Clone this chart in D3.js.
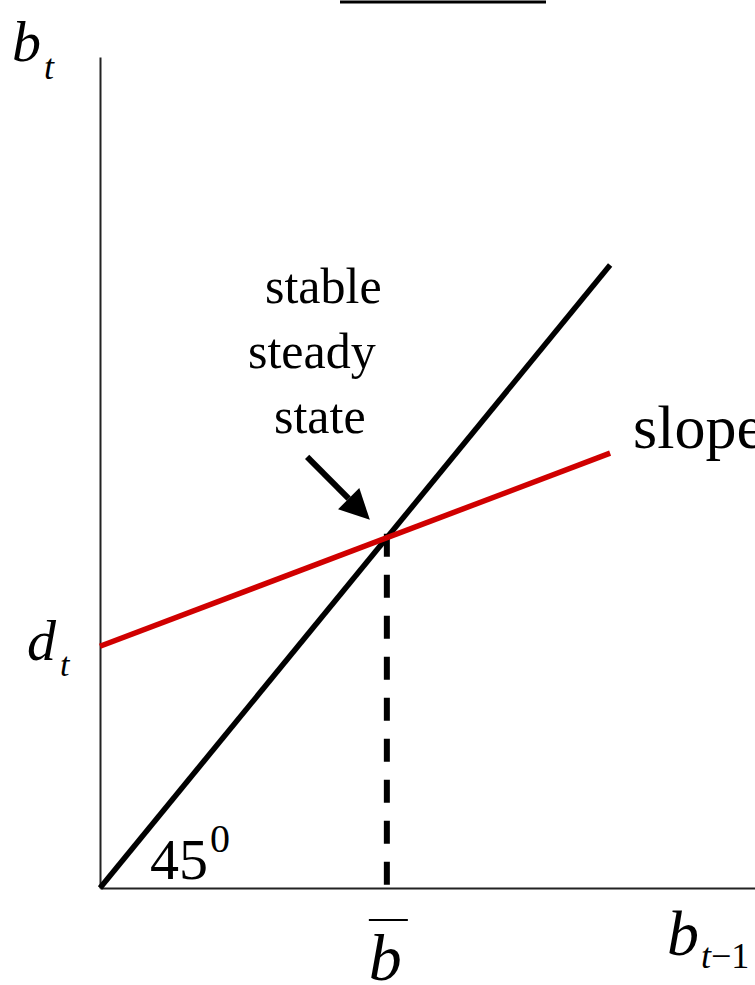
<!DOCTYPE html>
<html>
<head>
<meta charset="utf-8">
<script src="https://cdn.jsdelivr.net/npm/d3@7/dist/d3.min.js"></script>
<style>
  html, body { margin: 0; padding: 0; background: #fff; }
  svg { display: block; }
</style>
</head>
<body>
<svg id="chart" width="755" height="985"></svg>
<script>
// Debt dynamics: b_t = d_t + slope * b_{t-1}, against the 45-degree line
const xDomain = [0, 12.84];        // b_{t-1}
const yDomain = [0, 13.34];        // b_t
const lineSpan = [0, 10];          // drawn extent of both lines
const intercept = 3.88;            // d_t
const slope = 0.31;                // slope of the debt line (< 1, stable)
const steadyState = intercept / (1 - slope);   // b-bar
const arrowFrom = [4.06, 6.92];
const arrowTo = [5.29, 5.91];
const labelLines = ["stable", "steady", "state"];

const SERIF = "'Liberation Serif', 'Times New Roman', Times, 'DejaVu Serif', serif";

const svg = d3.select("#chart");
const x = d3.scaleLinear().domain(xDomain).range([100, 755]);
const y = d3.scaleLinear().domain(yDomain).range([888, 57]);

// Axes (plain lines, no ticks)
svg.append("g").attr("transform", `translate(0,${y(0)})`)
  .call(d3.axisBottom(x).tickValues([]).tickSizeOuter(0))
  .select(".domain").attr("stroke", "#222").attr("stroke-width", 2);
svg.append("g").attr("transform", `translate(${x(0)},0)`)
  .call(d3.axisLeft(y).tickValues([]).tickSizeOuter(0))
  .select(".domain").attr("stroke", "#222").attr("stroke-width", 2);

// Overline fragment at the top edge
svg.append("line").attr("x1", 340).attr("x2", 546).attr("y1", 2).attr("y2", 2)
  .attr("stroke", "#000").attr("stroke-width", 3);

const line = d3.line().x(d => x(d[0])).y(d => y(d[1]));

// Dashed drop line at the steady state
svg.append("line")
  .attr("x1", x(steadyState)).attr("x2", x(steadyState))
  .attr("y1", y(steadyState) - 4).attr("y2", y(0))
  .attr("stroke", "#000").attr("stroke-width", 6)
  .attr("stroke-dasharray", "23 18");

// 45-degree line
svg.append("path")
  .datum(lineSpan.map(v => [v, v]))
  .attr("d", line).attr("fill", "none")
  .attr("stroke", "#000").attr("stroke-width", 5.5);

// Debt line
svg.append("path")
  .datum(lineSpan.map(v => [v, intercept + slope * v]))
  .attr("d", line).attr("fill", "none")
  .attr("stroke", "#d00000").attr("stroke-width", 5.5);

// Arrow pointing at the steady state
const ax0 = x(arrowFrom[0]), ay0 = y(arrowFrom[1]);
const ax1 = x(arrowTo[0]), ay1 = y(arrowTo[1]);
const ang = Math.atan2(ay1 - ay0, ax1 - ax0);
const headLen = 30, headHalf = 15;
const bx = ax1 - headLen * Math.cos(ang), by = ay1 - headLen * Math.sin(ang);
svg.append("line")
  .attr("x1", ax0).attr("y1", ay0).attr("x2", bx).attr("y2", by)
  .attr("stroke", "#000").attr("stroke-width", 6);
svg.append("path")
  .attr("d", d3.line()([
    [ax1, ay1],
    [bx + headHalf * Math.sin(ang), by - headHalf * Math.cos(ang)],
    [bx - headHalf * Math.sin(ang), by + headHalf * Math.cos(ang)]
  ]) + "Z")
  .attr("fill", "#000");

// Labels
const lbl = svg.append("g").attr("font-family", SERIF).attr("fill", "#000");
const stackX = [265, 248, 274];
const stackY = [303, 368, 433];
labelLines.forEach((t, i) => {
  lbl.append("text").attr("x", stackX[i]).attr("y", stackY[i])
    .attr("font-size", 50).text(t);
});

lbl.append("text").attr("x", x(10) + 23).attr("y", 448)
  .attr("font-size", 62).text("slope");

// b_t on the vertical axis
const bt = lbl.append("text").attr("x", 12).attr("y", 61);
bt.append("tspan").attr("font-style", "italic").attr("font-size", 58).text("b");
bt.append("tspan").attr("font-style", "italic").attr("font-size", 36).attr("dx", 3).attr("dy", 18).text("t");

// d_t at the intercept
const dt = lbl.append("text").attr("x", 27).attr("y", 660);
dt.append("tspan").attr("font-style", "italic").attr("font-size", 58).text("d");
dt.append("tspan").attr("font-style", "italic").attr("font-size", 34).attr("dx", 4).attr("dy", 16).text("t");

// b_{t-1} on the horizontal axis
const bt1 = lbl.append("text").attr("x", 667).attr("y", 955);
bt1.append("tspan").attr("font-style", "italic").attr("font-size", 64).text("b");
bt1.append("tspan").attr("font-style", "italic").attr("font-size", 36).attr("dx", 2).attr("dy", 13).text("t");
bt1.append("tspan").attr("font-size", 36).text("\u22121");

// b-bar under the steady state
lbl.append("text").attr("x", x(steadyState) - 18).attr("y", 980)
  .attr("font-style", "italic").attr("font-size", 66).text("b");
svg.append("line")
  .attr("x1", x(steadyState) - 18).attr("x2", x(steadyState) + 21)
  .attr("y1", 920).attr("y2", 920)
  .attr("stroke", "#000").attr("stroke-width", 2);

// 45 degree marker
const deg = lbl.append("text").attr("x", 150).attr("y", 879);
deg.append("tspan").attr("font-size", 58).text("45");
deg.append("tspan").attr("font-size", 40).attr("dx", 2).attr("dy", -27).text("0");
</script>
</body>
</html>
